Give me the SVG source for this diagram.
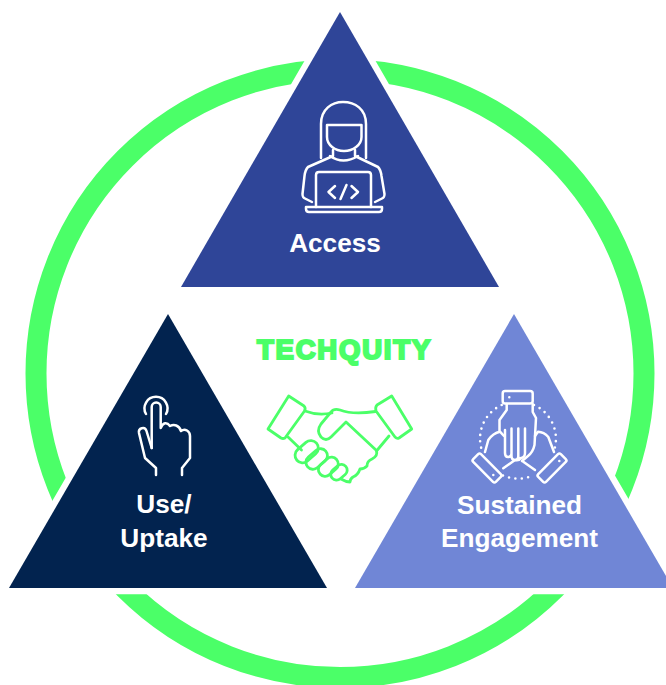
<svg xmlns="http://www.w3.org/2000/svg" width="666" height="685" viewBox="0 0 666 685">
<style>
.tri{stroke:#fff;stroke-width:12.5;stroke-linejoin:miter;paint-order:stroke}
.ico{fill:none;stroke:#fff;stroke-width:2.5;stroke-linecap:round;stroke-linejoin:round}
.gr{fill:none;stroke:#4bff68;stroke-width:2.8;stroke-linecap:round;stroke-linejoin:round}
.dot{fill:none;stroke:#fff;stroke-width:2.6;stroke-linecap:round;stroke-dasharray:0 6.4}
.lb{font-family:"Liberation Sans",Arial,sans-serif;font-weight:700;font-size:26.2px;fill:#fff;text-anchor:middle}
</style>
<rect width="666" height="685" fill="#fff"/>
<g id="ring"><circle cx="340" cy="373.5" r="304" fill="none" stroke="#4bff68" stroke-width="21"/></g>
<g id="access">
<polygon class="tri" points="340,12 499,287 181,287" fill="#2f4598"/>
<g class="ico">
<path d="M321,158V124C321,109 332,102 343,102C355,102 366,109 366,124V158"/>
<path d="M327,125H361.500V137C361.500,145 353,151 344,151C335,151 327,145 327,137Z"/>
<path d="M333,150V156L308,167C306,169 305,172 304.500,176L302.500,194C302.500,197 303,197.500 305,198.500L312,202"/>
<path d="M355,150V156L378,167C380,169 381,172 381.500,176L384.500,194C384.500,197 384,197.500 382,198.500L375,202"/>
<path d="M330,156Q343,165 358,156"/>
<path d="M316,207V175Q316,172 319,172H368Q371,172 371,175V207"/>
<path d="M306,207H382V209Q382,212 379,212H309Q306,212 306,209Z"/>
<path d="M335,186L328.500,192L335,198M346.500,185L340.500,199M351.500,186L358,192L351.500,198"/>
</g>
<text class="lb" x="335" y="251.500">Access</text>
</g>
<g id="use-uptake">
<polygon class="tri" points="168,314 327,588 9,588" fill="#02234f"/>
<g class="ico">
<path d="M146,414A11.500,11.500 0 1 1 166,414"/>
<path d="M151.700,448V407A4.500,4.500 0 0 1 160.700,407V428C163,422 167,422 170,426C174,424 179,425 181,431C185,428 190,431 190,436V458L182,468V475"/>
<path d="M151.700,448L146.500,431C145,426 138,428 139,433L145,458L156,468V475"/>
</g>
<text class="lb" x="164" y="513">Use/</text>
<text class="lb" x="164" y="547">Uptake</text>
</g>
<g id="sustained-engagement">
<polygon class="tri" points="514,314 673,588 355,588" fill="#7086d6"/>
<g class="ico">
<path d="M521,403.500H505Q502.700,403.500 502.700,401V393.500Q502.700,391 505,391H530Q532.700,391 532.700,393.500V401Q532.700,403.500 530,403.500H516"/>
<path d="M506.700,404V410L499.500,420V431M532.700,404V412L536,418L534.500,445Q533,452 528,456L522,461"/>
<path d="M505,430V453Q505,457 508,457Q511.500,457 511.500,453V428.500M511.500,450V456Q511.500,460 515,460Q518.300,460 518.300,456V428.500M518.300,450V456Q518.300,459 521.500,458Q525,457 525,453V428.500"/>
<rect x="471" y="462.500" width="32" height="11" rx="2" transform="rotate(45 487 468)"/>
<rect x="536" y="462.500" width="32" height="11" rx="2" transform="rotate(-45 552 468)"/>
<path d="M485,452L488.300,440Q493,433 500,431.700L504,436M503.300,468.300L515,460Q519,461 521,458"/>
<path d="M554,452L548.300,437Q544,432 538,431.700L535,436M535,470L523.300,461.700"/>
<path d="M509.300,397.300h.01M493.300,475h.01M559.300,461h.01"/>
</g>
<path class="dot" d="M501.700,405A37,37 0 0 0 481.500,449M534,405A37,37 0 0 1 554.500,449M503,475.500A37,37 0 0 0 534,475"/>
<text class="lb" x="519.500" y="514">Sustained</text>
<text class="lb" x="519.500" y="547">Engagement</text>
</g>
<g id="techquity">
<text x="344.500" y="359" font-family="'Liberation Sans',Arial,sans-serif" font-weight="700" font-size="27.500" letter-spacing="1.800" fill="#4bff68" stroke="#4bff68" stroke-width="2.200" text-anchor="middle">TECHQUITY</text>
<g class="gr">
<path d="M288.700,396L304,406Q306,408 304.500,411L285,438Q283,439 281,438L268,429Z"/>
<path d="M391.700,396L377,405Q375,407 376,411L395,437Q397,439 399,438L411.700,429Z"/>
<path d="M305,411Q318,416 332,413"/>
<path d="M375.500,411.500Q353,415 340,410Q334,408 331,412L321,424Q316,431 321,437Q326,442 331,437L346,422L376.500,450.500"/>
<path d="M389,436L376.500,451Q378,456 372,459Q367,461 367,466Q364,469 360,469Q358,475 353,477Q350,479 350,482Q346,482 341,479"/>
<path d="M288,437L301.500,450"/>
<rect x="293.700" y="444.200" width="26" height="15" rx="7.500" transform="rotate(-41 306.700 451.700)"/>
<rect x="304.700" y="452" width="24" height="14" rx="7" transform="rotate(-41 316.700 459)"/>
<rect x="317.300" y="460" width="22" height="13.500" rx="6.700" transform="rotate(-41 328.300 466.700)"/>
<rect x="330" y="466.500" width="18" height="11.500" rx="5.700" transform="rotate(-41 339 472.300)"/>
</g>
</g>
</svg>
